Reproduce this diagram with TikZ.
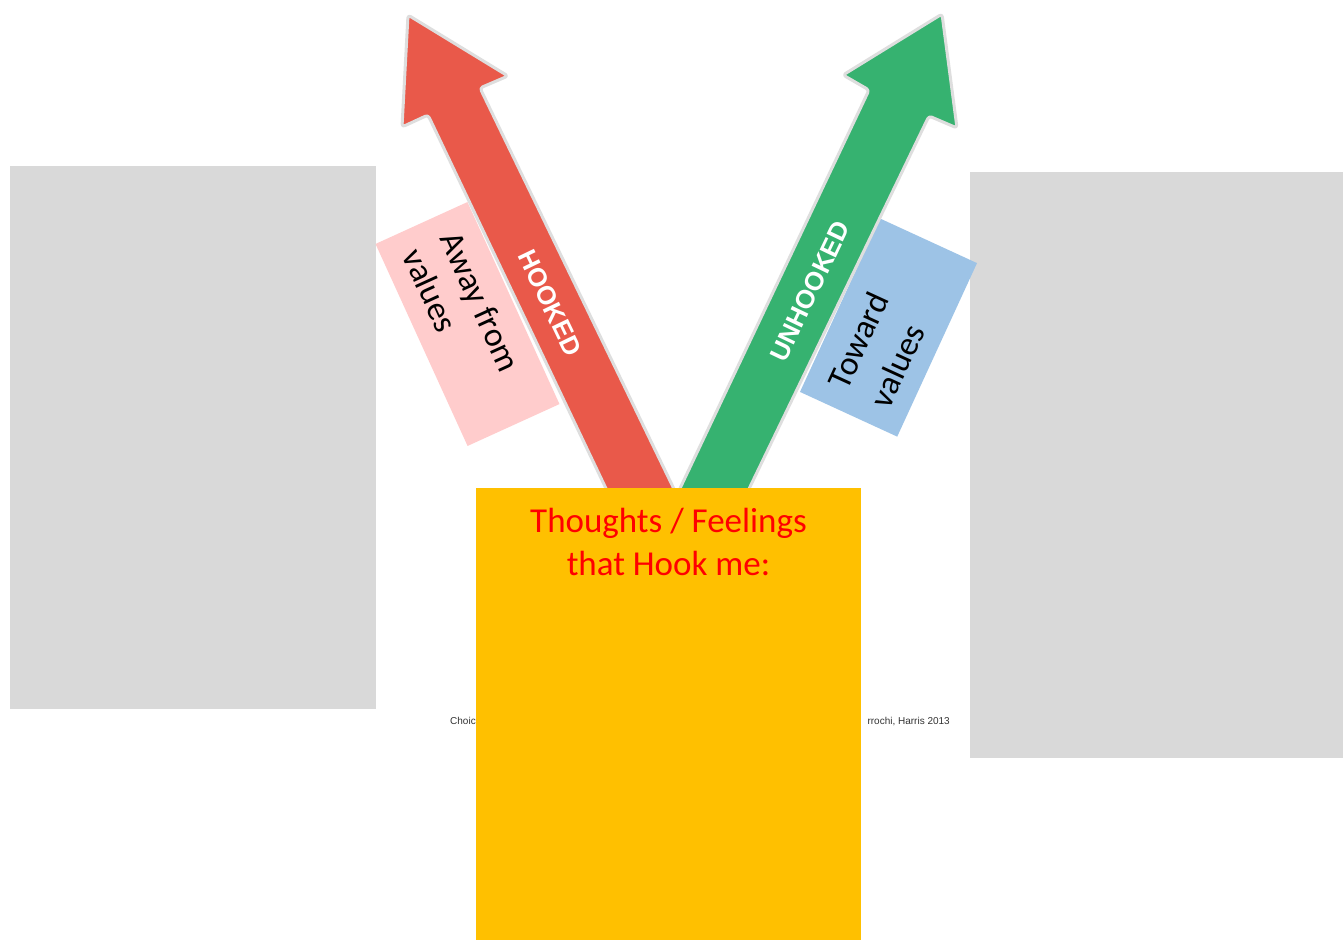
\documentclass[tikz,border=0pt]{standalone}
\usepackage{fontspec}
\setmainfont{Carlito}
\newfontfamily\arialfont{Liberation Sans}
\definecolor{boxgray}{HTML}{D9D9D9}
\definecolor{hookred}{HTML}{E9594A}
\definecolor{unhookgreen}{HTML}{36B270}
\definecolor{arrowrim}{HTML}{DEDEDE}
\definecolor{pinkfill}{HTML}{FFCCCC}
\definecolor{bluefill}{HTML}{9DC3E6}
\definecolor{yellowfill}{HTML}{FFC000}
\definecolor{citegray}{HTML}{333333}
\begin{document}
\begin{tikzpicture}[x=1pt,y=-1pt,
  panel/.style={fill=boxgray, draw=none, inner sep=0pt, anchor=north west},
  tagbox/.style={draw=none, inner sep=0pt},
  arrowbody/.style={draw=arrowrim, line width=3pt, rounded corners=3pt, line join=round},
  arrowlabel/.style={text=white, inner sep=0pt, font=\arialfont\bfseries\fontsize{26}{26}\selectfont},
  taglabel/.style={text=black, inner sep=0pt, align=left},
  cite/.style={text=citegray, inner sep=0pt, font=\arialfont\fontsize{10}{12}\selectfont}]
\useasboundingbox (0,0) rectangle (1343,940);
\fill[white] (0,0) rectangle (1343,940);
% grey panels
\node[panel, minimum width=366pt, minimum height=543pt] (leftpanel) at (10,166) {};
\node[panel, minimum width=373pt, minimum height=586pt] (rightpanel) at (970,172) {};
% tag boxes
\node[tagbox, fill=pinkfill, rotate=-65.5, minimum width=222pt, minimum height=101pt] (awaybox) at (467.5,324) {};
\node[tagbox, fill=bluefill, rotate=65.3, minimum width=191pt, minimum height=107pt] (towardbox) at (888.5,327.5) {};
% arrows
\path[arrowbody, fill=hookred] (621,520) -- (428,115) -- (402,127) -- (408,15) -- (508,76) -- (480,88) -- (689,520) -- cycle;
\path[arrowbody, fill=unhookgreen] (665,520) -- (869,90) -- (843,75) -- (942,14) -- (957,128) -- (929,116) -- (734,520) -- cycle;
\node[arrowlabel, rotate=-64.3] (hooked) at (550,303) {HOOKED};
\node[arrowlabel, rotate=64.5] (unhooked) at (810,291) {UNHOOKED};
% tag texts
\node[taglabel, rotate=-65.5, font=\fontsize{34}{41}\selectfont] (away) at (462,310) {Away from\\values};
\node[taglabel, rotate=65.3, font=\fontsize{34}{46}\selectfont] (toward) at (879,350) {Toward\\values};
% citation fragments
\node[cite, anchor=base west] (citeleft) at (450,724) {Choic};
\node[cite, anchor=base east] (citeright) at (950,724) {rrochi, Harris 2013};
% yellow box
\node[panel, fill=yellowfill, minimum width=385pt, minimum height=452pt] (thoughtsbox) at (476,488) {};
\node[text=red, inner sep=0pt, align=center, anchor=base, font=\fontsize{35}{43}\selectfont] (thoughts) at (668.5,575) {Thoughts / Feelings\\that Hook me:};
\end{tikzpicture}
\end{document}
